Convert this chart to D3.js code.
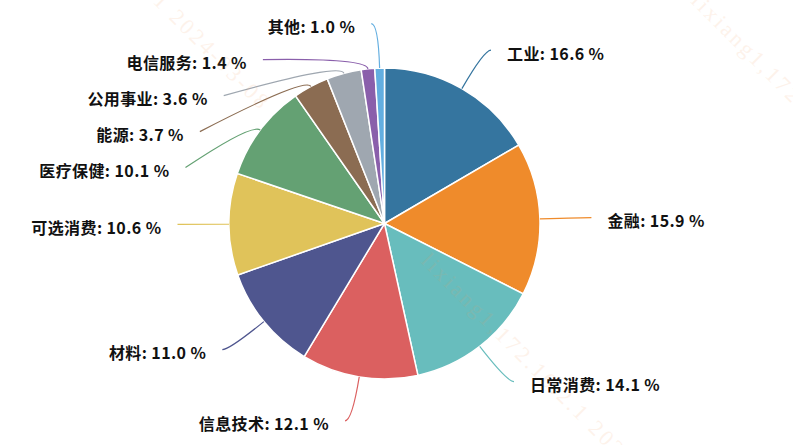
<!DOCTYPE html>
<html><head><meta charset="utf-8">
<script src="https://cdn.jsdelivr.net/npm/d3@7"></script>
<style>body{margin:0;background:#fff;} svg{display:block}</style>
</head><body>
<svg id="chart" width="793" height="445"></svg>
<script>
const categories = ["工业","金融","日常消费","信息技术","材料","可选消费","医疗保健","能源","公用事业","电信服务","其他"];
const values = [16.6,15.9,14.1,12.1,11.0,10.6,10.1,3.7,3.6,1.4,1.0];
const colors = ["#35759f","#ef8b2b","#68bdbd","#db6060","#4f568f","#e0c35a","#64a173","#8b6c52","#9fa7b0","#8a5fab","#63aee0"];
const watermarkText = "lixiang1,172.16.2.1 2024-03-08";

const W = 793, H = 445, cx = 384.5, cy = 223.5, r = 155.5;
const len = 44.5, len2 = 7, gap = 16, spacing = 36;

const svg = d3.select("#chart");

const data = categories.map((c,i)=>({name:c, value:values[i], color:colors[i]}));
const pie = d3.pie().sort(null).value(d=>d.value);
const arcs = pie(data);
const arc = d3.arc().innerRadius(0).outerRadius(r);

const g = svg.append("g").attr("transform",`translate(${cx},${cy})`);
g.selectAll("path.slice").data(arcs).join("path")
  .attr("class","slice").attr("d",arc)
  .attr("fill",d=>d.data.color).attr("stroke","#fff").attr("stroke-width",1.5);

// label layout
const items = arcs.map(a => {
  const mid = (a.startAngle + a.endAngle)/2;
  const s = Math.sin(mid), c = Math.cos(mid);
  const dir = s >= 0 ? 1 : -1;
  const edge = [cx + r*s, cy - r*c];
  const p2 = [cx + (r+len)*s, cy - (r+len)*c];
  return {a, mid, s, c, dir, edge, p2, y: p2[1], y0: p2[1], x: p2[0] + dir*len2};
});

[1,-1].forEach(dir => {
  const side = items.filter(d=>d.dir===dir).sort((a,b)=>a.y-b.y);
  let shifted = false;
  for (let i=1;i<side.length;i++){
    if (side[i].y < side[i-1].y + spacing){ side[i].y = side[i-1].y + spacing; shifted = true; }
  }
  if (shifted){
    const rA = r + len;
    [side.filter(d=>d.y<=cy), side.filter(d=>d.y>cy)].forEach(semi => {
      if (!semi.length) return;
      let far = semi[0], maxDy = -1;
      semi.forEach(d=>{ const dy=Math.abs(d.y-cy); if (dy>=maxDy){maxDy=dy; far=d;} });
      const odx = far.p2[0]-cx;
      const rB = Math.abs(odx) < rA ? Math.sqrt(maxDy*maxDy/(1-odx*odx/(rA*rA))) : rA;
      semi.forEach(d=>{
        const dy = Math.abs(d.y-cy);
        const dx = Math.sqrt(Math.max(0,1-dy*dy/(rB*rB)))*rA;
        d.x = cx + dir*(dx+len2);
      });
    });
  }
});

items.forEach(d=>{
  const moved = Math.abs(d.y - d.y0) > 1;
  const m = moved ? [cx + (r+11)*d.s, cy - (r+11)*d.c] : d.p2;
  d.path = `M${d.edge[0]},${d.edge[1]}Q${m[0]},${m[1]} ${d.x},${d.y}`;
});

svg.append("g").selectAll("path").data(items).join("path")
  .attr("d",d=>d.path).attr("fill","none")
  .attr("stroke",d=>d.a.data.color).attr("stroke-width",1.2);

svg.append("g").selectAll("text").data(items).join("text")
  .attr("x",d=>d.x + d.dir*gap).attr("y",d=>d.y+2.5)
  .attr("text-anchor",d=>d.dir>0?"start":"end")
  .attr("dominant-baseline","central")
  .attr("font-family","'Noto Sans CJK SC', 'Noto Sans', sans-serif")
  .attr("font-size",16).attr("letter-spacing",0.4).attr("font-weight","bold").attr("fill","#111")
  .text(d=>`${d.a.data.name}: ${d.a.data.value.toFixed(1)} %`);

// faint watermark on top
const wm = svg.append("g").attr("class","watermark").attr("pointer-events","none");
[[262,112,"end"],[690,2,"start"],[420,262,"start"]].forEach(([x,y,a]) => {
  wm.append("text").attr("transform",`translate(${x},${y}) rotate(45)`)
    .attr("text-anchor",a).attr("font-family","Liberation Serif, DejaVu Serif, serif")
    .attr("font-size",22).attr("letter-spacing",3).attr("fill","#f59a5c").attr("opacity",0.12)
    .text(watermarkText);
});
</script>
</body></html>
